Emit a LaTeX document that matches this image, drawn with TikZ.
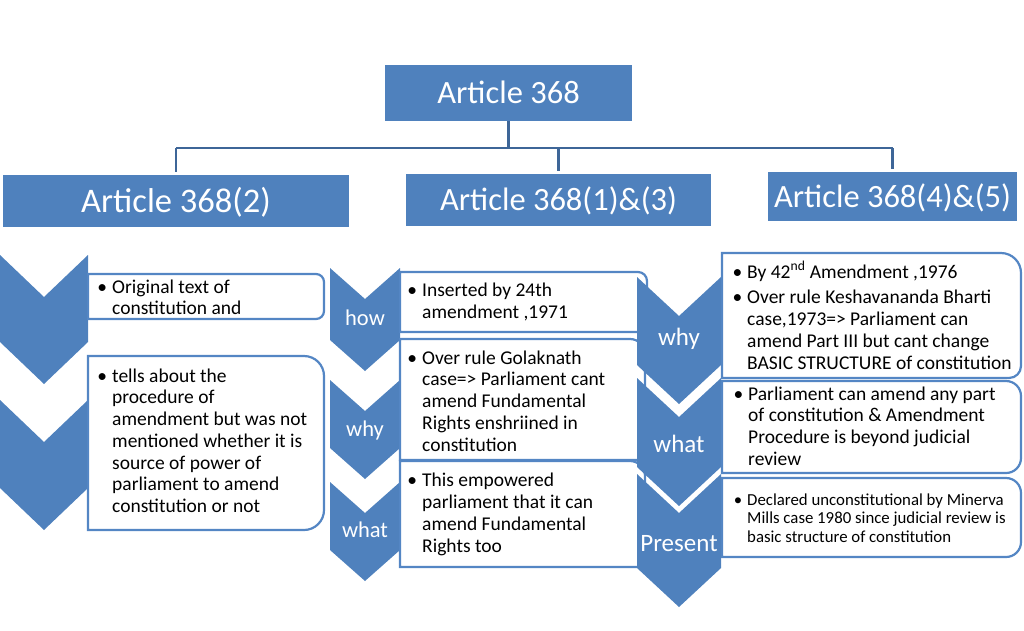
\documentclass[tikz,border=0pt]{standalone}
\usepackage{fontspec}
\setmainfont{Carlito}
\definecolor{cblue}{RGB}{79,129,189}
\definecolor{bord}{RGB}{84,134,196}
\definecolor{connc}{RGB}{62,102,152}
\newcommand{\chevron}[5]{% x ytop w d s
  \fill[cblue] (#1,#2) -- ++(#3/2,#4) -- ++(#3/2,-#4) -- ++(0,#5) -- ++(-#3/2,#4) -- ++(-#3/2,-#4) -- cycle;}
\newcommand{\rbox}[6]{% x1 y1 x2 y2 rtop rbot
  \filldraw[boxline] (#1,#2) -- ({#3-#5},#2) arc[start angle=-90,end angle=0,radius=#5]
    -- (#3,{#4-#6}) arc[start angle=0,end angle=90,radius=#6] -- (#1,#4) -- cycle;}
\newcommand{\bu}{\rule{0pt}{15pt}\llap{\textbullet\hspace{5pt}}}
\newcommand{\bs}{\rule{0pt}{13pt}\llap{\textbullet\hspace{5pt}}}
\tikzset{
  boxline/.style={draw=bord, fill=white, line width=2.2pt},
  hdr/.style={fill=cblue, text=white, font=\fontsize{32.5}{39}\selectfont, inner sep=0pt, text height=21pt, text depth=0pt},
  connline/.style={draw=connc, line width=2.6pt},
  txt/.style={anchor=north west, inner sep=0pt, align=left, font=\fontsize{19.5}{21.7}\selectfont, text=black},
  stxt/.style={anchor=north west, inner sep=0pt, align=left, font=\fontsize{16.8}{18.4}\selectfont, text=black},
  lblm/.style={anchor=base, inner sep=0pt, text=white, font=\fontsize{22.5}{27}\selectfont},
  lblr/.style={anchor=base, inner sep=0pt, text=white, font=\fontsize{25}{30}\selectfont},
}
\begin{document}
\begin{tikzpicture}[x=1pt,y=-1pt]
\useasboundingbox (0,0) rectangle (1024,630);
% headers
\node[hdr, minimum width=247pt, minimum height=56pt] (top) at (508.5,93) {Article 368};
\node[hdr, minimum width=346pt, minimum height=52pt, font=\fontsize{34.5}{40}\selectfont, text height=22pt] (h1) at (176,201) {Article 368(2)};
\node[hdr, minimum width=305pt, minimum height=52pt] (h2) at (558.5,200) {Article 368(1)\&(3)};
\node[hdr, minimum width=249pt, minimum height=49pt] (h3) at (892.5,196.5) {Article 368(4)\&(5)};
\coordinate (bar) at (0,148);
\draw[connline] (top.south) -- (top.south |- bar);
\draw[connline] (h1.north |- bar) -- (h3.north |- bar);
\draw[connline] (h1.north |- bar) -- ([yshift=3pt]h1.north);
\draw[connline] (h2.north |- bar) -- ([yshift=3pt]h2.north);
\draw[connline] (h3.north |- bar) -- ([yshift=3pt]h3.north);
% left column
\chevron{0}{255}{88}{42}{87}
\chevron{0}{400}{88}{42}{88}
\rbox{88}{274}{324}{319}{8}{8}
\rbox{88}{356}{324}{530}{20}{20}
\node[txt] (l1) at (112,278) {\bu Original text of\\constitution and};
\node[txt] (l2) at (112,367) {\bu tells about the\\procedure of\\amendment but was not\\mentioned whether it is\\source of power of\\parliament to amend\\constitution or not};
% middle column
\chevron{330}{268}{70}{31}{72}
\chevron{330}{380}{70}{31}{68}
\chevron{330}{482}{70}{31}{68}
\rbox{400}{272}{647}{332}{9}{6}
\rbox{400}{339}{645}{460}{15}{8}
\rbox{400}{461}{645}{567}{15}{8}
\node[lblm] (mhow) at (365,325) {how};
\node[lblm] (mwhy) at (365,436.5) {why};
\node[lblm] (mwhat) at (365,537.5) {what};
\node[txt] (m1) at (422,281.5) {\bu Inserted by 24th\\amendment ,1971};
\node[txt] (m2) at (422,349) {\bu Over rule Golaknath\\case=> Parliament cant\\amend Fundamental\\Rights enshriined in\\constitution};
\node[txt] (m3) at (422,471.7) {\bu This empowered\\parliament that it can\\amend Fundamental\\Rights too};
% right column
\chevron{637}{277}{84}{39}{88}
\chevron{637}{378}{84}{39}{89}
\chevron{637}{474}{84}{39}{94}
\rbox{722}{253}{1021}{378}{20}{12}
\rbox{722}{381}{1021}{473}{15}{15}
\rbox{722}{478}{1021}{557}{15}{15}
\node[lblr] (rwhy) at (679,345) {why};
\node[lblr] (rwhat) at (679,452) {what};
\node[lblr] (rpres) at (679,551.7) {Present};
\node[txt] (r1) at (747,261) {\bu By 42\textsuperscript{nd} Amendment ,1976\\[4pt]\bu Over rule Keshavananda Bharti\\case,1973=> Parliament can\\amend Part III but cant change\\BASIC STRUCTURE of constitution};
\node[txt] (r2) at (748,385) {\bu Parliament can amend any part\\of constitution \& Amendment\\Procedure is beyond judicial\\review};
\node[stxt] (r3) at (747,492) {\bs Declared unconstitutional by Minerva\\Mills case 1980 since judicial review is\\basic structure of constitution};
\end{tikzpicture}
\end{document}
